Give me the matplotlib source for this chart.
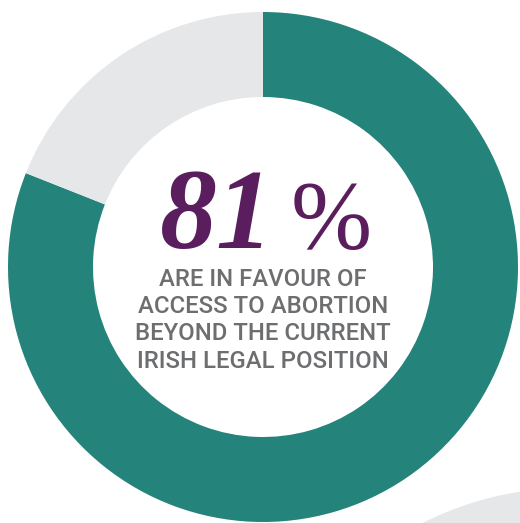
import matplotlib
matplotlib.use("Agg")
import matplotlib.pyplot as plt
from matplotlib.patches import Circle

# Data
labels = ["In favour", "Other"]
values = [81, 19]
colors = ["#24837A", "#E6E7E9"]
headline_num = "81"
headline_pct = "%"
caption_lines = ["ARE IN FAVOUR OF", "ACCESS TO ABORTION",
                 "BEYOND THE CURRENT", "IRISH LEGAL POSITION"]

W, H = 520, 523
fig = plt.figure(figsize=(W / 100, H / 100), dpi=100)
ax = fig.add_axes([0, 0, 1, 1])
ax.set_xlim(0, W)
ax.set_ylim(0, H)
ax.axis("off")

# decorative partial circle bottom-right
ax.add_patch(Circle((569, -289), 324, color="#E6E7E9", lw=0))

ax.pie(values, colors=colors, startangle=90, counterclock=False,
       radius=255, center=(263, H - 267),
       wedgeprops=dict(width=85, linewidth=0))
ax.set_xlim(0, W)
ax.set_ylim(0, H)
ax.set_aspect("auto")

purple = "#5A1D5E"
ax.text(274, H - 248, headline_num, ha="right", va="baseline",
        fontsize=82, fontweight="bold", fontstyle="italic",
        family="Liberation Serif", color=purple)
ax.text(291, H - 248, headline_pct, ha="left", va="baseline",
        fontsize=70, fontweight="normal",
        family="Liberation Serif", color=purple)

baselines = [286, 313, 340, 368]
for line, b in zip(caption_lines, baselines):
    ax.text(263, H - b, line, ha="center", va="baseline",
            fontsize=17.2, family="Roboto", fontweight="medium",
            color="#6D6E70")

fig.savefig("out.png", dpi=100)
